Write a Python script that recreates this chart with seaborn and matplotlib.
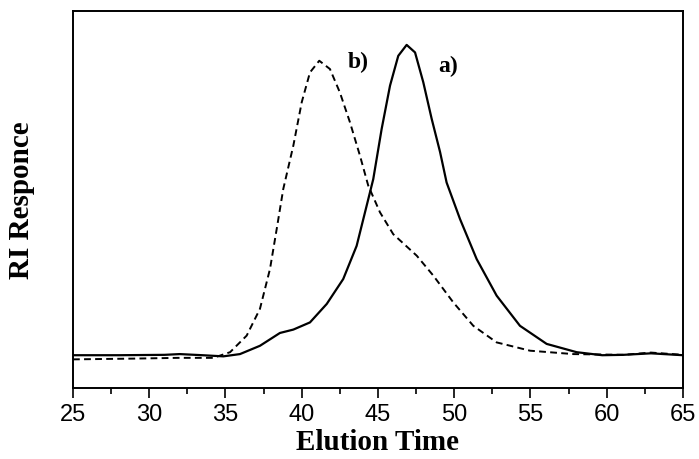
import matplotlib
matplotlib.use("Agg")
import matplotlib.pyplot as plt
import seaborn as sns
import pandas as pd

# elution time (min) and RI response (arbitrary units)
time_a = [25.0, 28.0, 31.0, 32.0, 33.5, 34.86, 35.95, 37.26, 38.57, 39.45, 40.54,
          41.64, 42.72, 43.6, 44.26, 44.69, 45.24, 45.79, 46.33, 46.88, 47.43,
          47.97, 48.52, 49.07, 49.5, 50.38, 51.47, 52.78, 54.31, 56.06, 58.03,
          59.7, 61.1, 62.9, 65.0]
resp_a = [8.7, 8.7, 8.8, 9.0, 8.7, 8.4, 9.0, 11.2, 14.6, 15.5, 17.4,
          22.3, 28.9, 37.7, 48.4, 55.4, 68.7, 80.2, 88.1, 91.0, 89.0,
          81.1, 71.4, 62.6, 54.5, 44.8, 34.2, 24.5, 16.5, 11.7, 9.5,
          8.7, 8.8, 9.2, 8.7]

time_b = [25.0, 28.95, 31.9, 34.2, 35.3, 36.39, 37.26, 37.92, 38.36, 38.79, 39.45,
          40.0, 40.54, 41.15, 41.85, 42.5, 43.16, 43.82, 44.36, 45.13, 46.0,
          47.54, 48.63, 49.94, 51.25, 52.78, 54.97, 57.81, 61.1, 62.9, 65.0]
resp_b = [7.6, 7.8, 8.0, 8.0, 9.5, 13.9, 21.0, 31.6, 42.2, 52.8, 64.3,
          75.8, 83.7, 86.8, 84.6, 78.4, 70.5, 61.6, 53.7, 46.6, 40.8,
          35.1, 29.8, 22.7, 16.5, 12.1, 9.9, 9.0, 8.8, 9.4, 8.8]

curve_labels = ["a)", "b)"]
label_pos = [(49.6, 85.6), (43.7, 86.5)]
x_ticks = [25, 30, 35, 40, 45, 50, 55, 60, 65]

df_a = pd.DataFrame({"time": time_a, "resp": resp_a})
df_b = pd.DataFrame({"time": time_b, "resp": resp_b})

sns.set_style("ticks")
plt.rcParams.update({"text.color": "black", "axes.labelcolor": "black",
                     "xtick.color": "black", "ytick.color": "black",
                     "lines.solid_joinstyle": "round"})

fig = plt.figure(figsize=(6.99, 4.6), dpi=100)
ax = fig.add_axes([0.1044, 0.1543, 0.8727, 0.8197])

sns.lineplot(data=df_a, x="time", y="resp", ax=ax, color="black", linewidth=1.6)
sns.lineplot(data=df_b, x="time", y="resp", ax=ax, color="black", linewidth=1.4,
             linestyle=(0, (3.5, 2.2)))

for lab, (lx, ly) in zip(curve_labels, label_pos):
    ax.text(lx, ly, lab, fontsize=17, fontweight="bold", family="Liberation Serif",
            ha="center", va="center")

ax.set_xlim(25, 65)
ax.set_ylim(0, 100)
ax.set_xticks(x_ticks)
ax.set_xticks([t + 2.5 for t in x_ticks[:-1]], minor=True)
ax.set_yticks([])
ax.tick_params(axis="x", which="major", direction="out", length=7, width=1.2,
               labelsize=17, pad=4)
ax.tick_params(axis="x", which="minor", direction="out", length=4, width=1.2)
for lbl in ax.get_xticklabels():
    lbl.set_family("Liberation Sans")
for sp in ax.spines.values():
    sp.set_linewidth(1.4)
    sp.set_color("black")

ax.set_xlabel("Elution Time", fontsize=21, fontweight="bold",
              family="Liberation Serif", labelpad=2)
ax.set_ylabel("RI Responce", fontsize=21, fontweight="bold",
              family="Liberation Serif", labelpad=27)

fig.savefig("out.png", dpi=100)
